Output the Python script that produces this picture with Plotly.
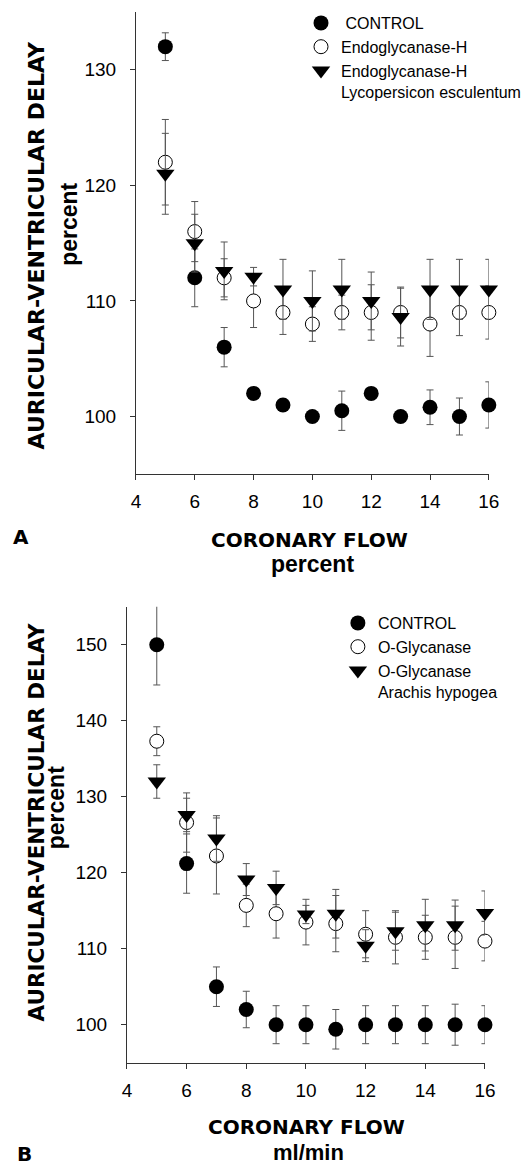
import plotly.graph_objects as go

W, H = 526, 1166

# ---------------- data ----------------
flow = [5, 6, 7, 8, 9, 10, 11, 12, 13, 14, 15, 16]
x_ticks = [4, 6, 8, 10, 12, 14, 16]

# Panel A (percent)
a_control = [132, 112, 106, 102, 101, 100, 100.5, 102, 100, 100.8, 100, 101]
a_control_err = [1.2, 2.5, 1.7, 0.5, 0.5, 0.5, 1.7, 0.5, 0.5, 1.5, 1.6, 2.0]
a_endo = [122, 116, 112, 110, 109, 108, 109, 109, 109, 108, 109, 109]
a_endo_err = [3.7, 2.6, 1.65, 2.3, 1.9, 1.5, 1.5, 2.4, 2.2, 2.8, 2.0, 2.3]
a_lyco = [121, 115, 112.6, 112.1, 111, 110, 111, 110, 108.6, 111, 111, 111]
a_lyco_err = [3.5, 2.5, 2.5, 0.8, 2.6, 2.6, 2.6, 2.5, 2.5, 2.6, 2.6, 2.6]
a_yticks = [100, 110, 120, 130]

# Panel B (ml/min)
b_control = [150, 121.2, 105, 102, 100, 100, 99.4, 100, 100, 100, 100, 100]
b_control_err = [5.3, 3.9, 2.6, 2.4, 2.5, 2.5, 2.6, 2.5, 2.5, 2.5, 2.7, 2.5]
b_oglyc = [137.3, 126.6, 122.2, 115.7, 114.6, 113.5, 113.3, 111.9, 111.5, 111.5, 111.5, 111.0]
b_oglyc_err = [1.9, 3.9, 5.0, 2.8, 3.2, 3.0, 3.7, 3.1, 3.5, 2.9, 4.1, 2.6]
b_arachis = [132, 127.6, 124.5, 119.1, 118, 114.5, 114.6, 110.4, 112.3, 113.1, 113.1, 114.7]
b_arachis_err = [2.2, 2.2, 3.0, 2.1, 2.2, 1.2, 3.2, 2.1, 2.5, 3.4, 3.3, 2.9]
b_yticks = [100, 110, 120, 130, 140, 150]

ERR_COLOR = "#555555"
TICK_FONT = dict(family="Liberation Sans, Arial, sans-serif", size=19, color="black")
LEG_FONT = dict(family="Liberation Sans, Arial, sans-serif", size=16, color="black")


def px(x):
    return x / W


def py(y):
    return 1 - y / H


def err(vals):
    return dict(type="data", array=vals, visible=True, color=ERR_COLOR,
                thickness=1, width=3.5)


fig = go.Figure()

def add_series(xa, ya, y, e, name, kind, legend):
    if kind == "filled":
        marker = dict(symbol="circle", size=15, color="black", line=dict(width=0))
    elif kind == "open":
        marker = dict(symbol="circle", size=14, color="white", line=dict(width=1, color="black"))
    else:
        marker = dict(symbol="triangle-down", size=16, color="black", line=dict(width=0))
    fig.add_trace(go.Scatter(x=flow, y=y, mode="markers", name=name, marker=marker,
                             error_y=err(e), xaxis=xa, yaxis=ya, cliponaxis=False,
                             legend=legend))

add_series("x", "y", a_control, a_control_err, " CONTROL", "filled", "legend")
add_series("x", "y", a_endo, a_endo_err, "Endoglycanase-H", "open", "legend")
add_series("x", "y", a_lyco, a_lyco_err, "Endoglycanase-H<br>Lycopersicon esculentum", "tri", "legend")

add_series("x2", "y2", b_control, b_control_err, "CONTROL", "filled", "legend2")
add_series("x2", "y2", b_oglyc, b_oglyc_err, "O-Glycanase", "open", "legend2")
add_series("x2", "y2", b_arachis, b_arachis_err, "O-Glycanase<br>Arachis hypogea", "tri", "legend2")

axis_common = dict(showline=True, linecolor="#333333", linewidth=1, ticks="outside",
                   ticklen=5, tickcolor="#333333", showgrid=False, zeroline=False,
                   tickfont=TICK_FONT, mirror=False)

fig.update_layout(
    width=W, height=H,
    margin=dict(l=0, r=0, t=0, b=0),
    paper_bgcolor="white", plot_bgcolor="white",
    xaxis=dict(domain=[px(135.3), px(500)], range=[4, 16], tickvals=x_ticks,
               anchor="y", ticklabelstandoff=5, **axis_common),
    yaxis=dict(domain=[py(474.3), py(12)], range=[95, 135], tickvals=a_yticks,
               anchor="x", ticklabelstandoff=10, **axis_common),
    xaxis2=dict(domain=[px(126), px(496)], range=[4, 16], tickvals=x_ticks,
                anchor="y2", ticklabelstandoff=5, **axis_common),
    yaxis2=dict(domain=[py(1062.7), py(606.7)], range=[95, 155], tickvals=b_yticks,
                anchor="x2", ticklabelstandoff=10, **axis_common),
    legend=dict(x=px(306), y=py(6), xanchor="left", yanchor="top", font=LEG_FONT,
                bgcolor="rgba(0,0,0,0)", valign="top", tracegroupgap=0),
    legend2=dict(x=px(344), y=py(606), xanchor="left", yanchor="top", font=LEG_FONT,
                 bgcolor="rgba(0,0,0,0)", valign="top", tracegroupgap=0),
    showlegend=True,
)

BLACK_FONT = dict(family="DejaVu Sans, sans-serif", color="black", weight="bold")
BOLD_FONT = dict(family="Liberation Sans, Arial, sans-serif", color="black", weight="bold")

annotations = [
    # Panel A
    dict(text="AURICULAR-VENTRICULAR DELAY", x=px(33), y=py(245.5), textangle=-90,
         font=dict(size=22, **BLACK_FONT)),
    dict(text="percent", x=px(66), y=py(224), textangle=-90, font=dict(size=23, **BOLD_FONT)),
    dict(text="CORONARY FLOW", x=px(315), y=py(540), font=dict(size=20, **BLACK_FONT)),
    dict(text="percent", x=px(318), y=py(564), font=dict(size=23, **BOLD_FONT)),
    dict(text="A", x=px(17), y=py(537), font=dict(size=20, **BLACK_FONT)),
    # Panel B
    dict(text="AURICULAR-VENTRICULAR DELAY", x=px(33), y=py(822.5), textangle=-90,
         font=dict(size=21.5, **BLACK_FONT)),
    dict(text="percent", x=px(53), y=py(808), textangle=-90, font=dict(size=23, **BOLD_FONT)),
    dict(text="CORONARY FLOW", x=px(312), y=py(1127), font=dict(size=20, **BLACK_FONT)),
    dict(text="ml/min", x=px(314), y=py(1152), font=dict(size=22, **BOLD_FONT)),
    dict(text="B", x=px(20), y=py(1154), font=dict(size=20, **BLACK_FONT)),
]
for a in annotations:
    a.update(xref="paper", yref="paper", showarrow=False, xanchor="center", yanchor="middle")
fig.update_layout(annotations=annotations)

fig.write_html("out.html")
